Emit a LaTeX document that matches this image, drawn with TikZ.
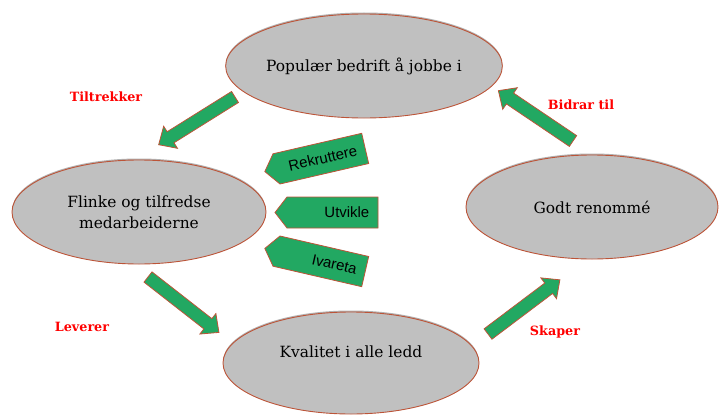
\documentclass[tikz,border=0pt]{standalone}
\usepackage{fontspec}
\setmainfont{DejaVu Serif}
\newfontfamily\tagfont{Liberation Sans}
\usetikzlibrary{shapes.geometric,shadows}
\definecolor{ellfill}{RGB}{192,192,192}
\definecolor{ellline}{RGB}{188,84,56}
\definecolor{grn}{RGB}{34,168,98}
\definecolor{lblred}{RGB}{255,0,0}
\tikzset{
  ell/.style={ellipse, draw=ellline, line width=0.9bp, fill=ellfill, inner sep=0pt,
    drop shadow={shadow xshift=0bp, shadow yshift=1.5bp, opacity=0.3, fill=black},
    align=center, font=\fontsize{15.5}{21}\selectfont},
  elltext/.style={inner sep=0pt, align=center, font=\fontsize{15.5}{21}\selectfont},
  arrowst/.style={draw=ellline, line width=0.8bp, fill=grn, line join=miter},
  tagst/.style={draw=ellline, line width=0.8bp, fill=grn},
  tagtext/.style={inner sep=0pt, font=\tagfont\fontsize{15}{18}\selectfont, transform shape},
  lbl/.style={inner sep=0pt, text=lblred, font=\bfseries\fontsize{12.8}{15}\selectfont},
  barrow/.pic={\draw[arrowst] (0,-6.5) -- (76,-6.5) -- (76,-13) -- (90,0) -- (76,13) -- (76,6.5) -- (0,6.5) -- cycle;},
  tagshape/.pic={\draw[tagst] (-51.5,0) -- (-39.5,15.5) -- (51.5,15.5) -- (51.5,-15.5) -- (-39.5,-15.5) -- cycle;}
}
\begin{document}
\begin{tikzpicture}[x=1bp,y=1bp]
\useasboundingbox (0,0) rectangle (719,414);
% ellipses
\node[ell, minimum width=256bp, minimum height=104bp] (pop) at (364,348) {Populær bedrift å jobbe i};
\node[ell, minimum width=254bp, minimum height=104bp] (fli) at (139,202) {Flinke og tilfredse\\medarbeiderne};
\node[ell, minimum width=252bp, minimum height=104bp] (god) at (592,207) {Godt renommé};
\node[ell, minimum width=256bp, minimum height=102bp] (kva) at (351,51) {};
\node[elltext] (kvat) at (351,62) {Kvalitet i alle ledd};
% block arrows
\pic[rotate=212] at (235,317) {barrow};
\pic[rotate=146] at (573,273) {barrow};
\pic[rotate=-38] at (148,137) {barrow};
\pic[rotate=37] at (488,80) {barrow};
% labels
\node[lbl] (l1) at (106,317) {Tiltrekker};
\node[lbl] (l2) at (581,309) {Bidrar til};
\node[lbl] (l3) at (82,87) {Leverer};
\node[lbl] (l4) at (555,82) {Skaper};
% tags
\pic[rotate=13] at (315,254) {tagshape};
\pic at (326.5,201.5) {tagshape};
\pic[rotate=-13] at (315,154) {tagshape};
\begin{scope}[shift={(315,254)}, rotate=13]
\node[tagtext, anchor=east] (rek) at (43,0) {Rekruttere};
\end{scope}
\begin{scope}[shift={(326.5,201.5)}]
\node[tagtext, anchor=east] (utv) at (43,0) {Utvikle};
\end{scope}
\begin{scope}[shift={(315,154)}, rotate=-13]
\node[tagtext, anchor=east] (iva) at (43,0) {Ivareta};
\end{scope}
\end{tikzpicture}
\end{document}
